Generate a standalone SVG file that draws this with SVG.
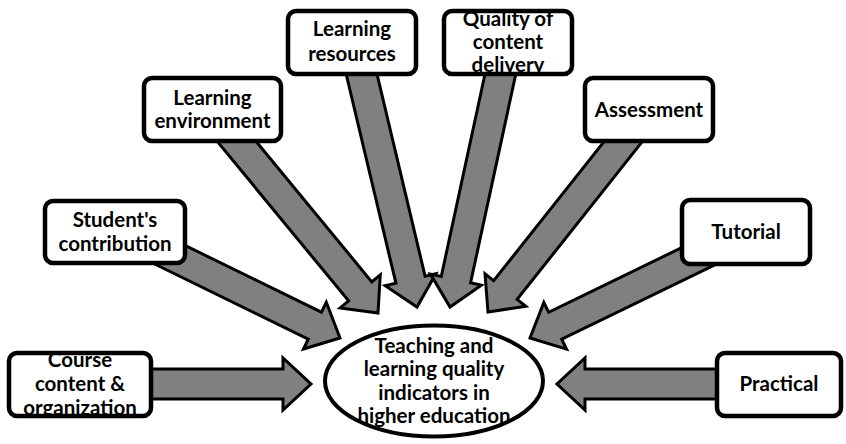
<svg xmlns="http://www.w3.org/2000/svg" width="846" height="444" viewBox="0 0 846 444">
  <style>
    .arrow { fill: #808080; stroke: #000; stroke-width: 3; stroke-linejoin: miter; stroke-miterlimit: 10; }
    .box { fill: #fff; stroke: none; }
    .frame { fill: none; stroke: #000; stroke-width: 4.5; }
    .hub { fill: #fff; stroke: #000; stroke-width: 4; }
    .label { font-family: Lato, "Open Sans", "Liberation Sans", sans-serif; font-weight: 700; font-size: 20.5px; fill: #000; text-anchor: middle; }
  </style>
  <defs>
    <clipPath id="clip-course"><rect x="9" y="353" width="142" height="63" rx="8"/></clipPath>
    <clipPath id="clip-quality"><rect x="444" y="11" width="128" height="63" rx="8"/></clipPath>
  </defs>
  <rect width="846" height="444" fill="#fff"/>

  <!-- block arrows pointing at the central ellipse -->
  <g id="connectors">
    <polygon class="arrow" points="150,369 283,369 283,358 311,384 283,410 283,399 150,399"/>
    <polygon class="arrow" points="718,369 585,369 585,358 557,384 585,410 585,399 718,399"/>
    <polygon class="arrow" points="143.4,258.5 308.25,339.16 303.42,349.05 340,338 326.28,302.33 321.45,312.22 156.6,231.5"/>
    <polygon class="arrow" points="213.7,137.1 348.62,300.92 340.13,307.91 378,313 380.27,274.85 371.78,281.84 236.9,118.1"/>
    <polygon class="arrow" points="342.8,60 395.93,283.23 385.23,285.78 417,307 435.81,273.74 425.11,276.29 372,53"/>
    <polygon class="arrow" points="518.9,59.7 470.58,282.8 481.33,285.13 450,307 430.51,274.13 441.26,276.46 489.5,53.3"/>
    <polygon class="arrow" points="646.2,136.6 517.14,299.38 525.76,306.21 488,312 485.02,273.91 493.64,280.74 622.7,118"/>
    <polygon class="arrow" points="746.55,249.49 561.73,339.26 566.54,349.15 530,338 543.82,302.39 548.63,312.28 733.45,222.51"/>
  </g>

  <g id="hub">
    <ellipse class="hub" cx="434" cy="381" rx="109" ry="55.5"/>
    <text class="label" x="434" y="353">Teaching and</text>
    <text class="label" x="434" y="376">learning quality</text>
    <text class="label" x="434" y="400">indicators in</text>
    <text class="label" x="434" y="423">higher education</text>
  </g>

  <g id="course">
    <rect class="box" x="9" y="353" width="142" height="63" rx="8"/>
    <g clip-path="url(#clip-course)">
      <text class="label" x="80" y="367">Course</text>
      <text class="label" x="80" y="391">content &amp;</text>
      <text class="label" x="80" y="415">organization</text>
    </g>
    <rect class="frame" x="9" y="353" width="142" height="63" rx="8"/>
  </g>

  <g id="practical">
    <rect class="box" x="717" y="353" width="124" height="63" rx="8"/>
    <text class="label" x="779" y="391">Practical</text>
    <rect class="frame" x="717" y="353" width="124" height="63" rx="8"/>
  </g>

  <g id="student">
    <rect class="box" x="45" y="201" width="140" height="62" rx="8"/>
    <text class="label" x="115" y="227">Student's</text>
    <text class="label" x="115" y="251">contribution</text>
    <rect class="frame" x="45" y="201" width="140" height="62" rx="8"/>
  </g>

  <g id="environment">
    <rect class="box" x="144" y="78" width="137" height="63" rx="8"/>
    <text class="label" x="212.5" y="105">Learning</text>
    <text class="label" x="212.5" y="128">environment</text>
    <rect class="frame" x="144" y="78" width="137" height="63" rx="8"/>
  </g>

  <g id="resources">
    <rect class="box" x="288" y="11" width="128" height="63" rx="8"/>
    <text class="label" x="352" y="36">Learning</text>
    <text class="label" x="352" y="61">resources</text>
    <rect class="frame" x="288" y="11" width="128" height="63" rx="8"/>
  </g>

  <g id="quality">
    <rect class="box" x="444" y="11" width="128" height="63" rx="8"/>
    <g clip-path="url(#clip-quality)">
      <text class="label" x="508" y="26">Quality of</text>
      <text class="label" x="508" y="49">content</text>
      <text class="label" x="508" y="72">delivery</text>
    </g>
    <rect class="frame" x="444" y="11" width="128" height="63" rx="8"/>
  </g>

  <g id="assessment">
    <rect class="box" x="585" y="78" width="128" height="63" rx="8"/>
    <text class="label" x="649" y="117">Assessment</text>
    <rect class="frame" x="585" y="78" width="128" height="63" rx="8"/>
  </g>

  <g id="tutorial">
    <rect class="box" x="682" y="200" width="128" height="64" rx="8"/>
    <text class="label" x="746" y="239">Tutorial</text>
    <rect class="frame" x="682" y="200" width="128" height="64" rx="8"/>
  </g>
</svg>
